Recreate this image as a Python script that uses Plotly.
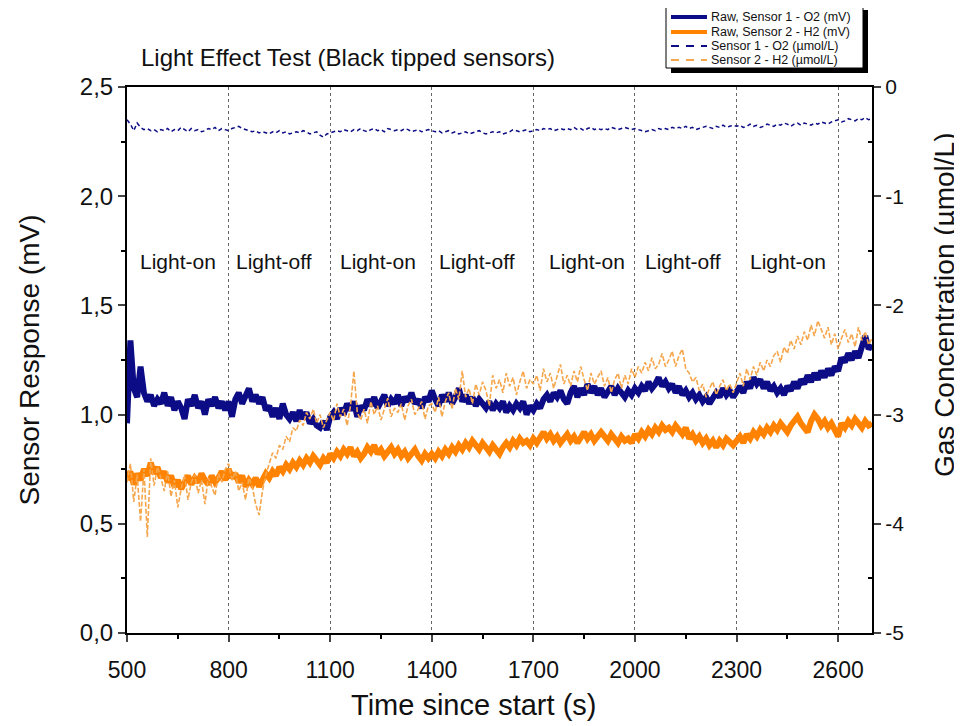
import plotly.graph_objects as go

# sample times (s), one reading every 10 s
time_s = list(range(500, 2701, 10))

# Raw, Sensor 1 - O2 (mV)
raw_s1_mv = [
    0.96, 1.34, 1.12, 1.08, 1.22, 1.10, 1.06, 1.09, 1.04, 1.07,
    1.05, 1.10, 1.04, 1.08, 1.02, 1.06, 1.03, 0.98, 1.07, 1.04,
    1.09, 1.03, 1.06, 1.00, 1.07, 1.04, 1.08, 1.03, 1.06, 1.02,
    1.06, 0.99, 1.07, 1.10, 1.05, 1.09, 1.12, 1.06, 1.09, 1.05,
    1.08, 1.02, 1.04, 0.99, 1.03, 0.98, 1.05, 1.00, 0.98, 1.01,
    0.97, 1.02, 0.98, 1.01, 0.96, 0.98, 0.95, 0.94, 0.97, 0.93,
    0.99, 1.01, 0.98, 1.03, 1.00, 1.05, 1.02, 1.06, 0.99, 1.04,
    1.02, 1.07, 1.04, 1.08, 1.03, 1.06, 1.09, 1.04, 1.07, 1.05,
    1.09, 1.04, 1.08, 1.06, 1.10, 1.05, 1.07, 1.03, 1.08, 1.06,
    1.11, 1.07, 1.04, 1.09, 1.06, 1.10, 1.05, 1.08, 1.12, 1.06,
    1.09, 1.05, 1.08, 1.04, 1.07, 1.05, 1.03, 1.06, 1.02, 1.05,
    1.03, 1.06, 1.01, 1.04, 1.02, 1.05, 1.03, 1.06, 1.00, 1.04,
    1.02, 1.05, 1.03, 1.07, 1.09, 1.06, 1.10, 1.08, 1.11, 1.07,
    1.05, 1.10, 1.13, 1.08, 1.12, 1.09, 1.14, 1.10, 1.13, 1.09,
    1.12, 1.08, 1.11, 1.13, 1.09, 1.12, 1.10, 1.08, 1.11, 1.09,
    1.12, 1.10, 1.13, 1.11, 1.15, 1.12, 1.14, 1.17, 1.13, 1.15,
    1.12, 1.14, 1.10, 1.13, 1.09, 1.11, 1.08, 1.10, 1.07, 1.09,
    1.06, 1.08, 1.05, 1.07, 1.10, 1.08, 1.12, 1.09, 1.11, 1.08,
    1.10, 1.13, 1.10, 1.15, 1.12, 1.17, 1.14, 1.16, 1.12, 1.15,
    1.11, 1.13, 1.10, 1.12, 1.09, 1.13, 1.11, 1.15, 1.12, 1.16,
    1.14, 1.18, 1.15, 1.19, 1.16, 1.20, 1.17, 1.21, 1.18, 1.22,
    1.20, 1.26, 1.24, 1.28, 1.25, 1.29, 1.26, 1.31, 1.36, 1.30,
    1.32,
]

# Raw, Sensor 2 - H2 (mV)
raw_s2_mv = [
    0.70, 0.74, 0.68, 0.73, 0.70, 0.75, 0.72, 0.78, 0.73, 0.76,
    0.71, 0.74, 0.69, 0.72, 0.67, 0.70, 0.66, 0.69, 0.72, 0.68,
    0.71, 0.69, 0.73, 0.70, 0.68, 0.72, 0.69, 0.71, 0.74, 0.70,
    0.75, 0.71, 0.73, 0.69, 0.72, 0.67, 0.70, 0.68, 0.71, 0.67,
    0.70, 0.73, 0.71, 0.74, 0.72, 0.76, 0.74, 0.77, 0.75, 0.78,
    0.76, 0.79, 0.77, 0.80, 0.78, 0.81, 0.79, 0.77, 0.80, 0.78,
    0.82, 0.80, 0.83, 0.81, 0.84, 0.82, 0.85, 0.81, 0.83, 0.80,
    0.82, 0.85, 0.83, 0.86, 0.82, 0.84, 0.81, 0.83, 0.85, 0.82,
    0.84, 0.81, 0.83, 0.80, 0.82, 0.84, 0.81, 0.79, 0.82, 0.80,
    0.82, 0.80, 0.83, 0.81, 0.84, 0.82, 0.85, 0.83, 0.86, 0.84,
    0.87, 0.85, 0.88, 0.86, 0.84, 0.87, 0.85, 0.83, 0.86, 0.84,
    0.82, 0.85, 0.87, 0.85, 0.88, 0.86, 0.89, 0.87, 0.88, 0.86,
    0.89, 0.87, 0.90, 0.92, 0.89, 0.91, 0.88, 0.90, 0.87, 0.89,
    0.91, 0.88, 0.90, 0.87, 0.89, 0.92, 0.89, 0.91, 0.88, 0.90,
    0.92, 0.90, 0.88, 0.91, 0.89, 0.87, 0.90, 0.88, 0.89, 0.87,
    0.91, 0.89, 0.92, 0.90, 0.93, 0.91, 0.94, 0.92, 0.95, 0.93,
    0.94, 0.92, 0.95, 0.93, 0.91, 0.94, 0.89, 0.91, 0.88, 0.90,
    0.87, 0.89, 0.86, 0.88, 0.85, 0.88, 0.86, 0.89, 0.87, 0.86,
    0.88, 0.90, 0.87, 0.91, 0.89, 0.92, 0.90, 0.93, 0.91, 0.94,
    0.92, 0.95, 0.93, 0.96, 0.94, 0.92, 0.95, 0.97, 0.99, 0.96,
    0.94, 0.92, 0.97, 1.00, 0.98, 0.95, 0.97, 0.94, 0.96, 0.93,
    0.90, 0.96, 0.94, 0.97, 0.95, 0.98, 0.96, 0.94, 0.97, 0.95,
    0.96,
]

# Sensor 1 - O2 (µmol/L)
conc_s1_umol = [
    -0.30, -0.34, -0.40, -0.33, -0.37, -0.39, -0.38, -0.40, -0.39, -0.41,
    -0.39, -0.40, -0.38, -0.41, -0.39, -0.40, -0.37, -0.39, -0.41, -0.38,
    -0.40, -0.39, -0.41, -0.40, -0.38, -0.39, -0.37, -0.40, -0.38, -0.39,
    -0.40, -0.38, -0.37, -0.36, -0.38, -0.39, -0.40, -0.41, -0.40, -0.42,
    -0.41, -0.42, -0.43, -0.41, -0.42, -0.40, -0.42, -0.41, -0.43, -0.42,
    -0.41, -0.42, -0.40, -0.41, -0.43, -0.42, -0.41, -0.44, -0.46, -0.43,
    -0.42, -0.41, -0.40, -0.41, -0.39, -0.40, -0.41, -0.39, -0.40, -0.38,
    -0.40, -0.41, -0.39, -0.38, -0.40, -0.39, -0.41, -0.38, -0.39, -0.40,
    -0.39, -0.40, -0.38, -0.39, -0.41, -0.40, -0.39, -0.41, -0.40, -0.39,
    -0.40, -0.41, -0.40, -0.42, -0.41, -0.40, -0.42, -0.41, -0.43, -0.42,
    -0.41, -0.43, -0.42, -0.41, -0.40, -0.42, -0.43, -0.42, -0.41, -0.42,
    -0.41, -0.43, -0.42, -0.41, -0.39, -0.40, -0.41, -0.40, -0.39, -0.41,
    -0.40, -0.39, -0.40, -0.38, -0.39, -0.38, -0.40, -0.39, -0.38, -0.39,
    -0.38, -0.39, -0.37, -0.39, -0.38, -0.40, -0.38, -0.37, -0.39, -0.38,
    -0.39, -0.38, -0.39, -0.37, -0.38, -0.39, -0.38, -0.37, -0.38, -0.39,
    -0.38, -0.39, -0.40, -0.41, -0.40, -0.39, -0.40, -0.38, -0.39, -0.38,
    -0.39, -0.37, -0.38, -0.37, -0.38, -0.36, -0.38, -0.37, -0.39, -0.38,
    -0.37, -0.36, -0.37, -0.38, -0.36, -0.37, -0.35, -0.37, -0.36, -0.35,
    -0.36, -0.35, -0.37, -0.36, -0.34, -0.36, -0.35, -0.37, -0.36, -0.34,
    -0.35, -0.36, -0.34, -0.35, -0.33, -0.34, -0.36, -0.34, -0.33, -0.35,
    -0.33, -0.34, -0.35, -0.33, -0.34, -0.32, -0.33, -0.34, -0.32, -0.31,
    -0.30, -0.32, -0.31, -0.29, -0.30, -0.31, -0.29, -0.30, -0.28, -0.30,
    -0.29,
]

# Sensor 2 - H2 (µmol/L)
conc_s2_umol = [
    -3.62, -3.45, -3.80, -3.55, -3.98, -3.50, -4.12, -3.40, -3.65, -3.48,
    -3.58, -3.70, -3.52, -3.75, -3.60, -3.85, -3.68, -3.55, -3.78, -3.62,
    -3.55, -3.72, -3.60, -3.82, -3.58, -3.66, -3.74, -3.54, -3.62, -3.50,
    -3.45, -3.60, -3.52, -3.70, -3.62, -3.78, -3.58, -3.66, -3.82, -3.92,
    -3.70, -3.55, -3.45, -3.35, -3.40, -3.28, -3.32, -3.20, -3.25, -3.12,
    -3.15, -3.05, -3.10, -2.98, -3.04, -2.95, -3.08, -3.00, -3.12, -3.05,
    -2.98, -3.06, -2.90, -3.02, -2.95, -3.10, -2.92, -2.60, -2.98, -3.05,
    -2.95, -3.08, -2.88, -3.00, -2.92, -3.05, -2.96, -2.85, -3.02, -2.94,
    -2.98, -2.90, -3.05, -2.92, -2.86, -3.00, -2.95, -2.88, -3.04, -2.92,
    -2.90, -2.98, -2.84, -3.02, -2.88, -2.80, -2.95, -2.76, -2.86, -2.60,
    -2.84, -2.76, -2.90, -2.72, -2.82, -2.70, -2.78, -2.92, -2.64, -2.76,
    -2.68, -2.80, -2.62, -2.74, -2.66, -2.82, -2.70, -2.60, -2.76, -2.68,
    -2.72, -2.64, -2.78, -2.58, -2.70, -2.62, -2.76, -2.66, -2.54, -2.72,
    -2.64, -2.74, -2.60, -2.70, -2.56, -2.68, -2.78, -2.62, -2.72, -2.66,
    -2.60, -2.74, -2.66, -2.80, -2.68, -2.62, -2.76, -2.64, -2.72, -2.58,
    -2.66, -2.56, -2.62, -2.52, -2.60, -2.48, -2.58, -2.54, -2.44, -2.56,
    -2.50, -2.42, -2.56, -2.46, -2.40, -2.58, -2.62, -2.70, -2.66, -2.78,
    -2.72, -2.84, -2.76, -2.70, -2.82, -2.74, -2.68, -2.78, -2.72, -2.80,
    -2.70, -2.62, -2.74, -2.58, -2.68, -2.56, -2.64, -2.52, -2.60, -2.50,
    -2.56, -2.46, -2.42, -2.52, -2.38, -2.44, -2.32, -2.40, -2.28, -2.36,
    -2.24, -2.32, -2.18, -2.28, -2.14, -2.22, -2.30, -2.20, -2.36, -2.26,
    -2.40, -2.30, -2.22, -2.34, -2.26, -2.38, -2.20, -2.32, -2.24, -2.36,
    -2.30,
]

for arr in (raw_s1_mv, raw_s2_mv, conc_s1_umol, conc_s2_umol):
    assert len(arr) == len(time_s), len(arr)

series_names = ["Raw, Sensor 1 - O2 (mV)", "Raw, Sensor 2 - H2 (mV)",
                "Sensor 1 - O2 (µmol/L)", "Sensor 2 - H2 (µmol/L)"]

# axis tick labels
x_ticks = [500, 800, 1100, 1400, 1700, 2000, 2300, 2600]
left_tick_vals = [0.0, 0.5, 1.0, 1.5, 2.0, 2.5]
left_tick_text = ["0,0", "0,5", "1,0", "1,5", "2,0", "2,5"]
right_tick_vals = [0, -1, -2, -3, -4, -5]
right_tick_text = ["0", "-1", "-2", "-3", "-4", "-5"]

# phase labels
phase_labels = ["Light-on", "Light-off", "Light-on", "Light-off", "Light-on", "Light-off", "Light-on"]
phase_centers = [652, 933, 1240, 1535, 1858, 2142, 2452]

NAVY = "#0c0c86"
ORANGE = "#ff8200"
ORANGE_LIGHT = "#f6a64c"
FONT = "Liberation Sans, Arial, sans-serif"
NARROW = "Liberation Sans Narrow, Arial Narrow, Liberation Sans, sans-serif"

styles = [
    dict(color=NAVY, width=6),
    dict(color=ORANGE, width=6),
    dict(color=NAVY, width=1.5, dash="4px,3px"),
    dict(color=ORANGE_LIGHT, width=1.6, dash="5px,2px"),
]
values = [raw_s1_mv, raw_s2_mv, conc_s1_umol, conc_s2_umol]
axes = ["y", "y", "y2", "y2"]

fig = go.Figure()
for name, vals, st, ax in zip(series_names, values, styles, axes):
    fig.add_trace(go.Scatter(x=time_s, y=vals, mode="lines", name=name, line=st, yaxis=ax,
                             showlegend=False))

for lbl, cx in zip(phase_labels, phase_centers):
    fig.add_annotation(x=cx, y=1.70, xref="x", yref="y", text=lbl, showarrow=False,
                       font=dict(family=FONT, size=21, color="#111"))

# page offset: the html body has an 8px margin
OFF = 8
# plot area in page pixels: x 127..872, y 87..633
L, R, T, B = 127, 872, 87, 633
W, H = R - L, B - T
FIG_W, FIG_H = 962 - OFF, 726 - OFF
def px(xp):
    return (xp - L) / W
def py(yp):
    return (B - yp) / H

fig.add_annotation(x=px(139), y=py(58), xref="paper", yref="paper", xanchor="left", yanchor="middle",
                   text="Light Effect Test (Black tipped sensors)", showarrow=False,
                   font=dict(family=FONT, size=24, color="#111"))

# axis titles placed where the original has them (not centred on the plot)
fig.add_annotation(x=px(473), y=py(705), xref="paper", yref="paper", xanchor="center", yanchor="middle",
                   text="Time since start (s)", showarrow=False,
                   font=dict(family=FONT, size=29, color="#111"))
fig.add_annotation(x=px(944), y=py(305), xref="paper", yref="paper", xanchor="center", yanchor="middle",
                   text="Gas Concentration (µmol/L)", showarrow=False, textangle=-90,
                   font=dict(family=FONT, size=28, color="#111"))

# legend box (drawn by hand to match the compact original)
LX0, LX1, LY0, LY1 = 666, 863, 5, 68
fig.add_shape(type="rect", xref="paper", yref="paper", x0=px(LX0 + 5), x1=px(LX1 + 5),
              y0=py(LY1 + 5), y1=py(LY0 + 5), fillcolor="black", line=dict(width=0), layer="above")
fig.add_shape(type="rect", xref="paper", yref="paper", x0=px(LX0), x1=px(LX1),
              y0=py(LY1), y1=py(LY0), fillcolor="white", line=dict(color="black", width=1), layer="above")
row_y = [17, 32, 46, 60]
for name, st, ry in zip(series_names, styles, row_y):
    dashed = "dash" in st
    fig.add_shape(type="line", xref="paper", yref="paper", x0=px(671), x1=px(707), y0=py(ry), y1=py(ry),
                  line=dict(color=st["color"], width=2 if dashed else 4,
                            dash="8px,7px" if dashed else "solid"),
                  layer="above")
    fig.add_annotation(x=px(709), y=py(ry), xref="paper", yref="paper", xanchor="left", yanchor="middle",
                       text=name, showarrow=False, font=dict(family=FONT, size=12.5, color="#111"))

fig.update_layout(
    width=FIG_W, height=FIG_H,
    margin=dict(l=L - OFF, r=FIG_W - (R - OFF), t=T - OFF, b=FIG_H - (B - OFF), autoexpand=False),
    paper_bgcolor="white", plot_bgcolor="white",
    showlegend=False,
    xaxis=dict(range=[500, 2700], tickvals=x_ticks, ticks="outside", ticklen=7, tickwidth=1.5,
               ticklabelstandoff=8,
               minor=dict(dtick=150, tick0=500, ticks="outside", ticklen=4, tickcolor="black", showgrid=False),
               showline=True, linecolor="black", linewidth=2, mirror=True,
               showgrid=True, gridcolor="#666", griddash="dot", gridwidth=1,
               zeroline=False,
               tickfont=dict(family=NARROW, size=23, color="#111")),
    yaxis=dict(range=[0, 2.5], tickvals=left_tick_vals, ticktext=left_tick_text,
               ticks="outside", ticklen=7, tickwidth=1.5,
               minor=dict(tickvals=[0.25, 0.75, 1.25, 1.75, 2.25], ticks="outside", ticklen=4, tickcolor="black", showgrid=False),
               showline=True, linecolor="black", linewidth=2, showgrid=False, zeroline=False,
               tickfont=dict(family=NARROW, size=24, color="#111"),
               title=dict(text="Sensor Response (mV)", font=dict(family=FONT, size=28, color="#111"), standoff=32)),
    yaxis2=dict(range=[-5, 0], overlaying="y", side="right", tickvals=right_tick_vals, ticktext=right_tick_text,
                ticks="outside", ticklen=7, tickwidth=1.5,
                minor=dict(tickvals=[-0.5, -1.5, -2.5, -3.5, -4.5], ticks="inside", ticklen=4, tickcolor="black", showgrid=False),
                showline=True, linecolor="black", linewidth=2, showgrid=False, zeroline=False,
                tickfont=dict(family=FONT, size=21, color="#111")),
)

fig.write_html("out.html")
